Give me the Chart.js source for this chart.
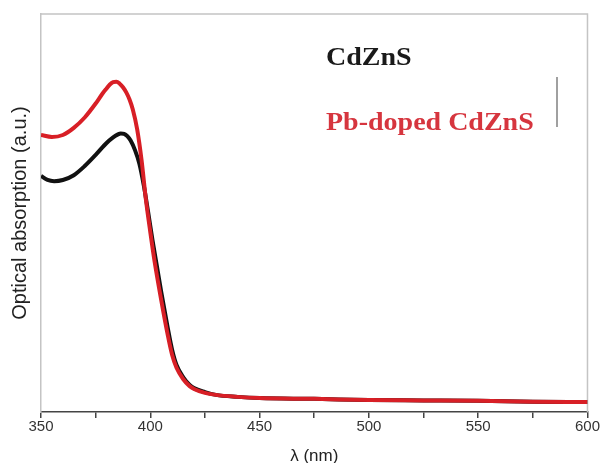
<!DOCTYPE html>
<html>
<head>
<meta charset="utf-8">
<script src="https://cdn.jsdelivr.net/npm/chart.js@4.4.1/dist/chart.umd.min.js"></script>
<style>
  html, body { margin: 0; padding: 0; background: #fff; }
  #wrap { width: 600px; height: 463px; }
</style>
</head>
<body>
<div id="wrap"><canvas id="absorption-chart" width="600" height="463"></canvas></div>
<script>
// wavelength (nm) and absorption (a.u.)
const pureWavelengths = [350, 353, 356, 360, 365, 370, 375, 380, 383, 385, 386.5, 388, 389.5, 391, 393, 395, 397, 399, 401, 403, 405, 408, 410, 412, 415, 418, 420, 425, 430, 440, 450, 475, 500, 525, 550, 575, 600];
const pureAbsorption  = [0.593, 0.583, 0.580, 0.583, 0.595, 0.618, 0.646, 0.676, 0.690, 0.697, 0.700, 0.699, 0.693, 0.682, 0.658, 0.624, 0.570, 0.503, 0.432, 0.367, 0.302, 0.211, 0.156, 0.118, 0.088, 0.068, 0.060, 0.050, 0.043, 0.038, 0.035, 0.033, 0.030, 0.029, 0.028, 0.026, 0.025];

const dopedWavelengths = [350, 355, 360, 365, 370, 375, 378, 380, 381.5, 383, 384.5, 386, 387.5, 389, 390.5, 392, 394, 396, 398, 400, 402, 405, 408, 410, 412, 415, 418, 420, 425, 430, 440, 450, 475, 500, 525, 550, 575, 600];
const dopedAbsorption  = [0.696, 0.691, 0.696, 0.714, 0.740, 0.775, 0.799, 0.813, 0.823, 0.829, 0.830, 0.825, 0.816, 0.803, 0.785, 0.760, 0.710, 0.633, 0.533, 0.452, 0.377, 0.281, 0.193, 0.143, 0.111, 0.083, 0.065, 0.058, 0.048, 0.043, 0.038, 0.035, 0.033, 0.030, 0.029, 0.028, 0.026, 0.025];

const xTicks = [350, 400, 450, 500, 550, 600];
const seriesNames = ['CdZnS', 'Pb-doped CdZnS'];

const toPoints = (xs, ys) => xs.map((x, i) => ({ x: x, y: ys[i] }));

// light frame on top/right plus the in-plot legend text
const framePlugin = {
    id: 'frameAndLabels',
    beforeDatasetsDraw(chart) {
        const { ctx, chartArea: a } = chart;
        ctx.save();
        ctx.strokeStyle = '#c4c4c4';
        ctx.lineWidth = 1.5;
        ctx.beginPath();
        ctx.moveTo(a.left, a.top);
        ctx.lineTo(a.right, a.top);
        ctx.lineTo(a.right, a.bottom);
        ctx.stroke();
        ctx.restore();
    },
    afterDraw(chart) {
        const ctx = chart.ctx;
        ctx.save();
        ctx.font = 'bold 25px "Liberation Serif", "Times New Roman", serif';
        ctx.textBaseline = 'alphabetic';

        ctx.save();
        ctx.translate(326, 65);
        ctx.scale(1.12, 1);
        ctx.fillStyle = '#1a1a1a';
        ctx.fillText(seriesNames[0], 0, 0);
        ctx.restore();

        ctx.save();
        ctx.translate(326, 130);
        ctx.scale(1.12, 1);
        ctx.fillStyle = '#d6353e';
        ctx.fillText(seriesNames[1], 0, 0);
        ctx.restore();

        ctx.strokeStyle = '#808080';
        ctx.lineWidth = 1.5;
        ctx.beginPath();
        ctx.moveTo(557, 77);
        ctx.lineTo(557, 127);
        ctx.stroke();
        ctx.restore();
    }
};

new Chart('absorption-chart', {
    type: 'line',
    data: {
        datasets: [
            {
                label: seriesNames[0],
                data: toPoints(pureWavelengths, pureAbsorption),
                borderColor: '#111111',
                borderWidth: 4,
                pointRadius: 0,
                cubicInterpolationMode: 'monotone',
                order: 2
            },
            {
                label: seriesNames[1],
                data: toPoints(dopedWavelengths, dopedAbsorption),
                borderColor: '#d81f26',
                borderWidth: 4,
                pointRadius: 0,
                cubicInterpolationMode: 'monotone',
                order: 1
            }
        ]
    },
    options: {
        responsive: false,
        animation: false,
        layout: { padding: { top: 14, right: 12, left: 0, bottom: 0 } },
        plugins: {
            legend: { display: false },
            tooltip: { enabled: false }
        },
        scales: {
            x: {
                type: 'linear',
                min: 350,
                max: 600,
                ticks: {
                    stepSize: 25,
                    autoSkip: false,
                    maxRotation: 0,
                    padding: 0,
                    color: '#333',
                    font: { family: '"Liberation Sans", Arial, sans-serif', size: 15 },
                    callback: (v) => xTicks.includes(v) ? String(v) : ''
                },
                grid: {
                    drawOnChartArea: false,
                    drawTicks: true,
                    tickLength: 6,
                    color: '#444',
                    lineWidth: 1.5
                },
                border: { display: true, color: '#444', width: 1.5 },
                title: {
                    display: true,
                    text: 'λ (nm)',
                    color: '#222',
                    padding: { top: 0, bottom: -4 },
                    font: { family: '"Liberation Sans", Arial, sans-serif', size: 17 }
                },
                afterFit: (scale) => { scale.height = 51; }
            },
            y: {
                min: 0,
                max: 1,
                ticks: { display: false },
                grid: { display: false, drawTicks: false },
                border: { display: true, color: '#c4c4c4', width: 1.5 },
                title: {
                    display: true,
                    text: 'Optical absorption (a.u.)',
                    color: '#222',
                    padding: { top: 8, bottom: 0 },
                    font: { family: '"Liberation Sans", Arial, sans-serif', size: 20 }
                },
                afterFit: (scale) => { scale.width = 41; }
            }
        }
    },
    plugins: [framePlugin]
});
</script>
</body>
</html>
